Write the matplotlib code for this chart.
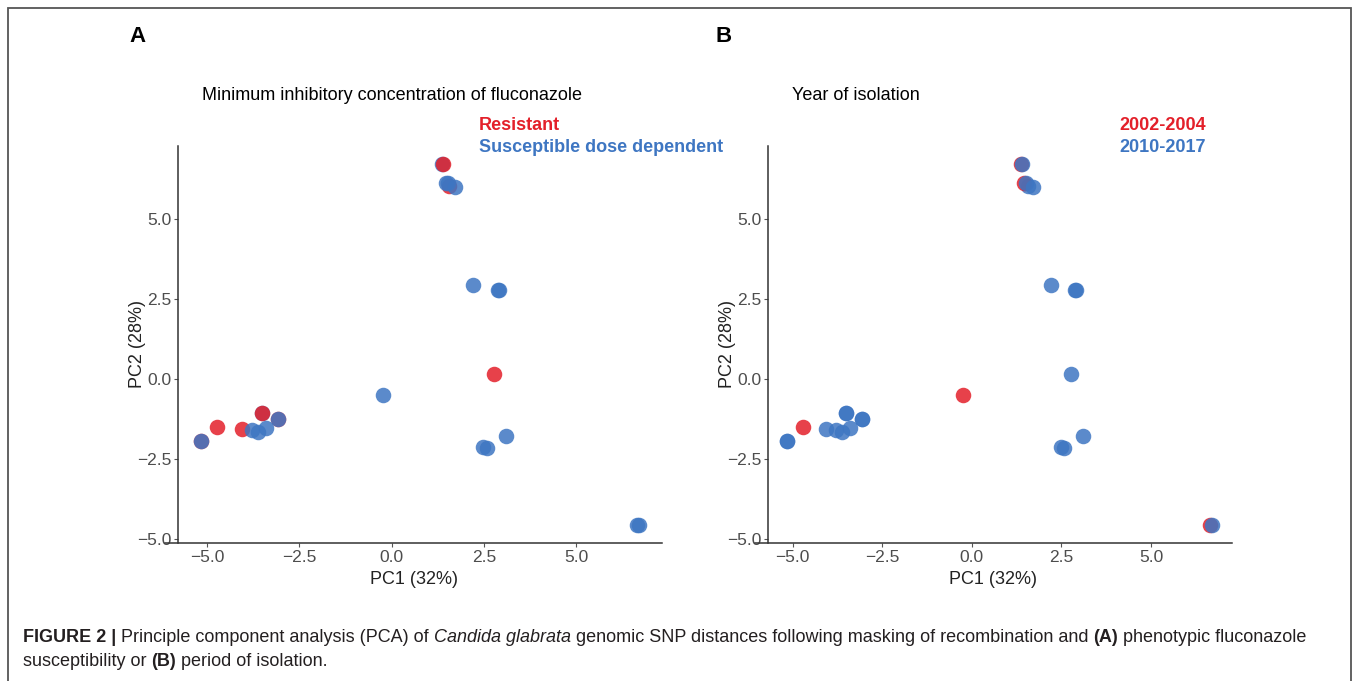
import matplotlib
matplotlib.use("Agg")
import matplotlib.pyplot as plt
from matplotlib import font_manager
from matplotlib.patches import Rectangle

# PCA coordinates of isolates (same isolates in both panels, listed in draw order)
PC1 = [1.36, 1.39, 1.57, 1.47, 1.52, 1.72, 2.20, 2.88, 2.91, 2.78, -0.24,
       -3.50, -3.50, -3.07, -3.07, -4.72, -4.06, -3.79, -3.63, -3.41,
       -5.17, -5.17, 3.11, 2.49, 2.58, 6.66, 6.70]
PC2 = [6.72, 6.72, 6.03, 6.12, 6.12, 5.99, 2.94, 2.78, 2.78, 0.15, -0.50,
       -1.07, -1.07, -1.26, -1.26, -1.51, -1.56, -1.59, -1.65, -1.54,
       -1.94, -1.94, -1.77, -2.13, -2.15, -4.55, -4.55]
MIC = ["S", "R", "R", "S", "S", "S", "S", "S", "S", "R", "S",
       "S", "R", "R", "S", "R", "R", "S", "S", "S",
       "R", "S", "S", "S", "S", "S", "S"]
YEAR = ["early", "late", "late", "early", "late", "late", "late", "late", "late", "late", "early",
        "late", "late", "late", "late", "early", "late", "late", "late", "late",
        "late", "late", "late", "late", "late", "early", "late"]

MIC_LABELS = {"R": "Resistant", "S": "Susceptible dose dependent"}
YEAR_LABELS = {"early": "2002-2004", "late": "2010-2017"}
RED = "#E3202A"
BLUE = "#3E76C2"
MIC_COLORS = {"R": RED, "S": BLUE}
YEAR_COLORS = {"early": RED, "late": BLUE}

W, H = 1357, 681
available = {f.name for f in font_manager.fontManager.ttflist}
SANS = "Liberation Sans" if "Liberation Sans" in available else "DejaVu Sans"
NARROW = "Liberation Sans Narrow" if "Liberation Sans Narrow" in available else SANS
plt.rcParams["font.family"] = SANS


def fx(px):
    return px / W


def fy(py):
    return 1 - py / H


def minus(v, pos):
    return f"{v:.1f}".replace("-", "\u2212")


def panel(fig, box, xlim, groups, colors, ylabel_pad):
    left, right, top, bottom = box
    ax = fig.add_axes([fx(left), fy(bottom), fx(right - left), (bottom - top) / H])
    for x, y, g in zip(PC1, PC2, groups):
        ax.scatter(x, y, s=125, color=colors[g], alpha=0.85, linewidths=0, zorder=3)
    ax.set_xlim(xlim)
    ax.set_ylim(-5.125, 7.28)
    ax.set_xticks([-5.0, -2.5, 0.0, 2.5, 5.0])
    ax.set_yticks([-5.0, -2.5, 0.0, 2.5, 5.0])
    ax.xaxis.set_major_formatter(minus)
    ax.yaxis.set_major_formatter(minus)
    ax.spines[["top", "right"]].set_visible(False)
    for s in ["left", "bottom"]:
        ax.spines[s].set_color("#333333")
        ax.spines[s].set_linewidth(1.1)
    # y axis line sits 13 px inside the panel, as in the original export
    ax.spines["left"].set_position(("outward", -13 * 0.72))
    ax.tick_params(length=3, width=0.8, color="#555555", labelsize=12.5,
                   labelcolor="#4D4D4D", pad=2)
    ax.set_xlabel("PC1 (32%)", fontsize=13, color="#222222", labelpad=4)
    ax.set_ylabel("PC2 (28%)", fontsize=13, color="#222222", labelpad=ylabel_pad)
    return ax


fig = plt.figure(figsize=(W / 100, H / 100), dpi=100)

panel(fig, (165, 662, 146, 543), (-6.14, 7.33), MIC, MIC_COLORS, -6.5)
panel(fig, (755, 1232, 146, 543), (-6.05, 7.26), YEAR, YEAR_COLORS, -7)

# panel letters, titles and colour keys
fig.text(fx(137), fy(37), "A", fontsize=16, fontweight="bold", ha="center", va="center")
fig.text(fx(724), fy(37), "B", fontsize=16, fontweight="bold", ha="center", va="center")
fig.text(fx(202), fy(96), "Minimum inhibitory concentration of fluconazole",
         fontsize=13, ha="left", va="center")
fig.text(fx(792), fy(96), "Year of isolation", fontsize=13, ha="left", va="center")
for i, key in enumerate(["R", "S"]):
    fig.text(fx(479), fy(125 + 23 * i), MIC_LABELS[key], fontsize=13, fontweight="bold",
             color=MIC_COLORS[key], ha="left", va="center")
for i, key in enumerate(["early", "late"]):
    fig.text(fx(1206), fy(125 + 23 * i), YEAR_LABELS[key], fontsize=13, fontweight="bold",
             color=YEAR_COLORS[key], ha="right", va="center")

# caption, drawn piece by piece so the bold / italic runs follow on
renderer = fig.canvas.get_renderer()
caption = [
    [("FIGURE 2 | ", "bold", "normal"),
     ("Principle component analysis (PCA) of ", "normal", "normal"),
     ("Candida glabrata", "normal", "italic"),
     (" genomic SNP distances following masking of recombination and ", "normal", "normal"),
     ("(A)", "bold", "normal"),
     (" phenotypic fluconazole", "normal", "normal")],
    [("susceptibility or ", "normal", "normal"),
     ("(B)", "bold", "normal"),
     (" period of isolation.", "normal", "normal")],
]
for row, line in enumerate(caption):
    x = 23
    for txt, weight, style in line:
        t = fig.text(fx(x), fy(637 + 25 * row), txt, fontsize=13, family=NARROW,
                     fontweight=weight, fontstyle=style, color="#231F20",
                     ha="left", va="center")
        x += t.get_window_extent(renderer).width

fig.patches.append(Rectangle((fx(8), fy(695)), fx(1343), (695 - 8) / H,
                             transform=fig.transFigure, fill=False,
                             edgecolor="#555555", linewidth=1.3))

fig.savefig("out.png", dpi=100)
